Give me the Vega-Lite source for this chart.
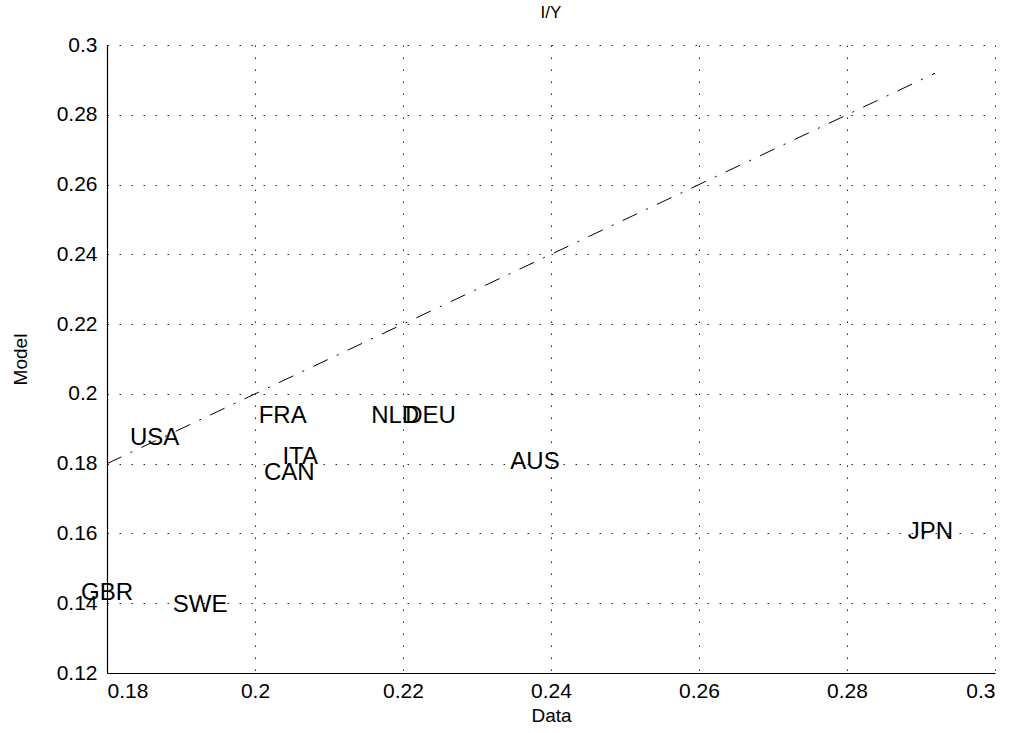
{
  "$schema": "https://vega.github.io/schema/vega-lite/v6.json",
  "width": 888,
  "height": 628,
  "autosize": "none",
  "padding": {"left": 107, "top": 45, "right": 22, "bottom": 60},
  "background": "white",
  "title": {"text": "I/Y", "fontSize": 17, "fontWeight": "normal", "font": "Liberation Sans", "color": "black", "anchor": "middle", "offset": 12},
  "config": {
    "view": {"stroke": null},
    "axis": {
      "domainColor": "black",
      "domainWidth": 1.2,
      "ticks": false,
      "grid": true,
      "gridColor": "#222222",
      "gridDash": [1.5, 10.5],
      "gridWidth": 1,
      "gridOpacity": 1,
      "labelFont": "Liberation Sans",
      "labelFontSize": 21,
      "labelColor": "black",
      "titleFont": "Liberation Sans",
      "titleFontSize": 19,
      "titleFontWeight": "normal",
      "titleColor": "black"
    }
  },
  "layer": [
    {
      "data": {"values": [{"data": 0.18, "model": 0.18}, {"data": 0.2919, "model": 0.2919}]},
      "mark": {"type": "line", "color": "black", "strokeWidth": 1, "strokeDash": [16, 10, 2, 10], "clip": false},
      "encoding": {
        "x": {"field": "data", "type": "quantitative", "scale": {"domain": [0.18, 0.3], "nice": false, "zero": false},
              "axis": {"title": "Data", "values": [0.18, 0.2, 0.22, 0.24, 0.26, 0.28, 0.3], "format": ".2~f", "labelPadding": 7, "titlePadding": 5}},
        "y": {"field": "model", "type": "quantitative", "scale": {"domain": [0.12, 0.3], "nice": false, "zero": false},
              "axis": {"title": "Model", "values": [0.12, 0.14, 0.16, 0.18, 0.2, 0.22, 0.24, 0.26, 0.28, 0.3], "format": ".2~f", "labelPadding": 10, "titlePadding": 26}}
      }
    },
    {
      "data": {"values": [
        {"label": "USA", "data": 0.1831, "model": 0.1874},
        {"label": "FRA", "data": 0.2005, "model": 0.1937},
        {"label": "ITA", "data": 0.2037, "model": 0.1819},
        {"label": "CAN", "data": 0.2012, "model": 0.1773},
        {"label": "NLD", "data": 0.2157, "model": 0.1937},
        {"label": "DEU", "data": 0.2203, "model": 0.1937},
        {"label": "AUS", "data": 0.2345, "model": 0.1805},
        {"label": "JPN", "data": 0.2882, "model": 0.1604},
        {"label": "GBR", "data": 0.1765, "model": 0.1429},
        {"label": "SWE", "data": 0.1889, "model": 0.1395}
      ]},
      "mark": {"type": "text", "align": "left", "baseline": "middle", "font": "Liberation Sans", "fontSize": 24, "color": "black", "clip": false},
      "encoding": {
        "x": {"field": "data", "type": "quantitative"},
        "y": {"field": "model", "type": "quantitative"},
        "text": {"field": "label"}
      }
    }
  ]
}
